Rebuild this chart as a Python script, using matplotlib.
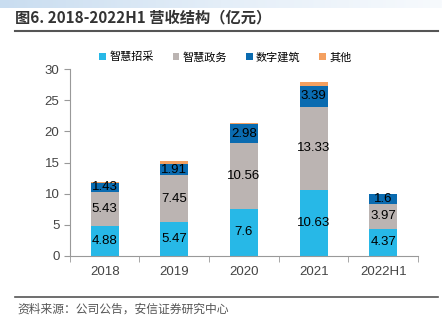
import numpy as np
import matplotlib.pyplot as plt

plt.rcParams['font.family'] = ['Liberation Sans', 'Noto Sans CJK SC', 'DejaVu Sans']

years = ["2018", "2019", "2020", "2021", "2022H1"]
procurement = [4.88, 5.47, 7.6, 10.63, 4.37]
government = [5.43, 7.45, 10.56, 13.33, 3.97]
construction = [1.43, 1.91, 2.98, 3.39, 1.6]
other = [0.2, 0.35, 0.2, 0.6, 0.05]

names = ["智慧招采", "智慧政务", "数字建筑", "其他"]
colors = ["#27B8E7", "#BBB4B2", "#0A6BB0", "#F4A060"]

fig = plt.figure(figsize=(4.42, 3.26), dpi=100)

# light band across the top
band = fig.add_axes([0, 0.975, 1, 0.025])
grad = np.linspace(0, 1, 256).reshape(1, -1)
band.imshow(grad, aspect='auto', cmap=plt.matplotlib.colors.LinearSegmentedColormap.from_list(
    'b', ["#C9DDF0", "#E4EEF8", "#F7FAFD"]), extent=[0, 1, 0, 1])
band.axis('off')

fig.text(0.035, 0.945, "图6. 2018-2022H1 营收结构（亿元）", fontsize=11, fontweight='semibold',
         color='#333333', va='center', family=['Noto Sans CJK SC', 'DejaVu Sans'])
fig.add_artist(plt.Line2D([0.035, 0.99], [0.905, 0.905], color='#555555', lw=1.5))
fig.add_artist(plt.Line2D([0.035, 0.99], [0.089, 0.089], color='#555555', lw=1.2))
fig.text(0.04, 0.052, "资料来源：公司公告，安信证券研究中心", fontsize=8.5, color='#555555',
         style='italic', va='center', family=['Noto Sans CJK SC', 'DejaVu Sans'])

ax = fig.add_axes([0.158, 0.215, 0.788, 0.573])
x = np.arange(len(years))
bottom = np.zeros(len(years))
series = [procurement, government, construction, other]
for vals, name, c, i in zip(series, names, colors, range(4)):
    bars = ax.bar(x, vals, 0.4, bottom=bottom, color=c, label=name)
    if i < 3:
        for xi, b, v in zip(x, bottom, vals):
            ax.text(xi, b + v / 2, f"{v:g}", ha='center', va='center', fontsize=9.5, color='black')
    bottom += np.array(vals)

ax.set_xlim(-0.5, len(years) - 0.5)
ax.set_ylim(0, 30)
ax.set_yticks([0, 5, 10, 15, 20, 25, 30])
ax.set_xticks(x)
ax.set_xticklabels(years)
ax.set_xticks(np.arange(len(years) + 1) - 0.5, minor=True)
ax.tick_params(axis='x', which='major', length=0, pad=7)
ax.tick_params(axis='x', which='minor', length=4, color='#999999')
ax.tick_params(axis='y', length=4, color='#999999')
ax.tick_params(labelsize=9.5, labelcolor='#444444')
for s in ['top', 'right']:
    ax.spines[s].set_visible(False)
for s in ['left', 'bottom']:
    ax.spines[s].set_color('#999999')

leg = fig.legend(loc='center', bbox_to_anchor=(0.51, 0.825), ncol=4, frameon=False,
                 handlelength=0.6, handleheight=0.6, handletextpad=0.3,
                 columnspacing=1.7, prop={'family': ['Noto Sans CJK SC'], 'size': 8})

fig.savefig("out.png", dpi=100)
